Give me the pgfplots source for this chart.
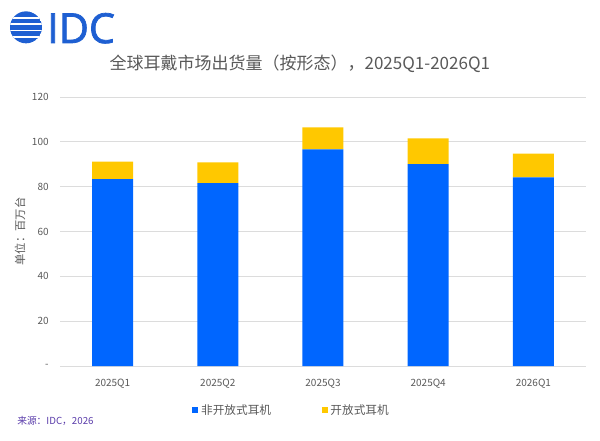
\documentclass[border=0pt]{standalone}
\usepackage{fontspec}
\usepackage{pgfplots}
\pgfplotsset{compat=1.18}
\setmainfont{Noto Sans CJK SC}
\newfontfamily\logofont{Open Sans}[FakeBold=1.8]
\definecolor{barblue}{RGB}{0,102,255}
\definecolor{baryellow}{RGB}{255,200,0}
\definecolor{txtgray}{RGB}{89,89,89}
\definecolor{gridgray}{RGB}{220,220,220}
\definecolor{logoblue}{RGB}{30,95,210}
\definecolor{srcpurple}{RGB}{90,60,170}
\begin{document}
\begin{tikzpicture}
\path[use as bounding box] (0,0) rectangle (450pt,330pt);
\begin{scope}[shift={(19.5pt,309.5pt)}]
\clip (0,0) circle (12pt);
\fill[logoblue] (0,0) circle (12pt);
\foreach \d in {-7.2,-2.4,2.4,7.2} \draw[white,line width=1.3pt] (-13pt,\d pt) -- (13pt,\d pt);
\end{scope}
\node[anchor=base west, inner sep=0, text=logoblue, font=\logofont\fontsize{31}{31}\selectfont] at (35.25pt,297.75pt) {IDC};
\node[anchor=west, inner sep=0, text=srcpurple, font=\fontsize{7.3}{9}\selectfont] at (12.75pt,14.25pt) {来源：IDC，2026};
\begin{axis}[
  at={(45pt,55.5pt)}, anchor=south west,
  scale only axis, width=394.5pt, height=201.75pt,
  ybar stacked, bar width=30.75pt,
  xmin=-0.5, xmax=4.5, ymin=0, ymax=120,
  xtick={0,1,2,3,4},
  xticklabels={2025Q1,2025Q2,2025Q3,2025Q4,2026Q1},
  ytick={0,20,40,60,80,100,120},
  yticklabels={-,20,40,60,80,100,120},
  ymajorgrids, grid style={gridgray, line width=0.75pt},
  axis line style={draw=none},
  major tick length=0pt,
  tick label style={text=txtgray, font=\fontsize{7.5}{9}\selectfont},
  yticklabel style={xshift=-5pt},
  xticklabel style={yshift=-6pt},
  title={全球耳戴市场出货量（按形态），2025Q1-2026Q1},
  title style={at={(axis description cs:0.456,1.093)}, anchor=center, text=txtgray, font=\fontsize{12.75}{15}\selectfont},
  ylabel={单位：百万台},
  ylabel style={at={(axis description cs:-0.076,0.5)}, anchor=center, text=txtgray, font=\fontsize{8.5}{10}\selectfont},
  legend columns=2,
  legend style={at={(axis description cs:0.441,-0.164)}, anchor=center, draw=none, fill=none, text=txtgray, font=\fontsize{8.75}{10}\selectfont, /tikz/every even column/.append style={column sep=36pt}},
  legend image code/.code={\path[#1, draw=none] (0pt,-2.25pt) rectangle (4.5pt,2.25pt);},
]
\addplot[fill=barblue, draw=none] coordinates {(0,83.4) (1,81.6) (2,96.6) (3,90.1) (4,84.1)};
\addplot[fill=baryellow, draw=none] coordinates {(0,7.8) (1,9.2) (2,9.8) (3,11.4) (4,10.6)};
\legend{非开放式耳机, 开放式耳机}
\end{axis}
\end{tikzpicture}
\end{document}
